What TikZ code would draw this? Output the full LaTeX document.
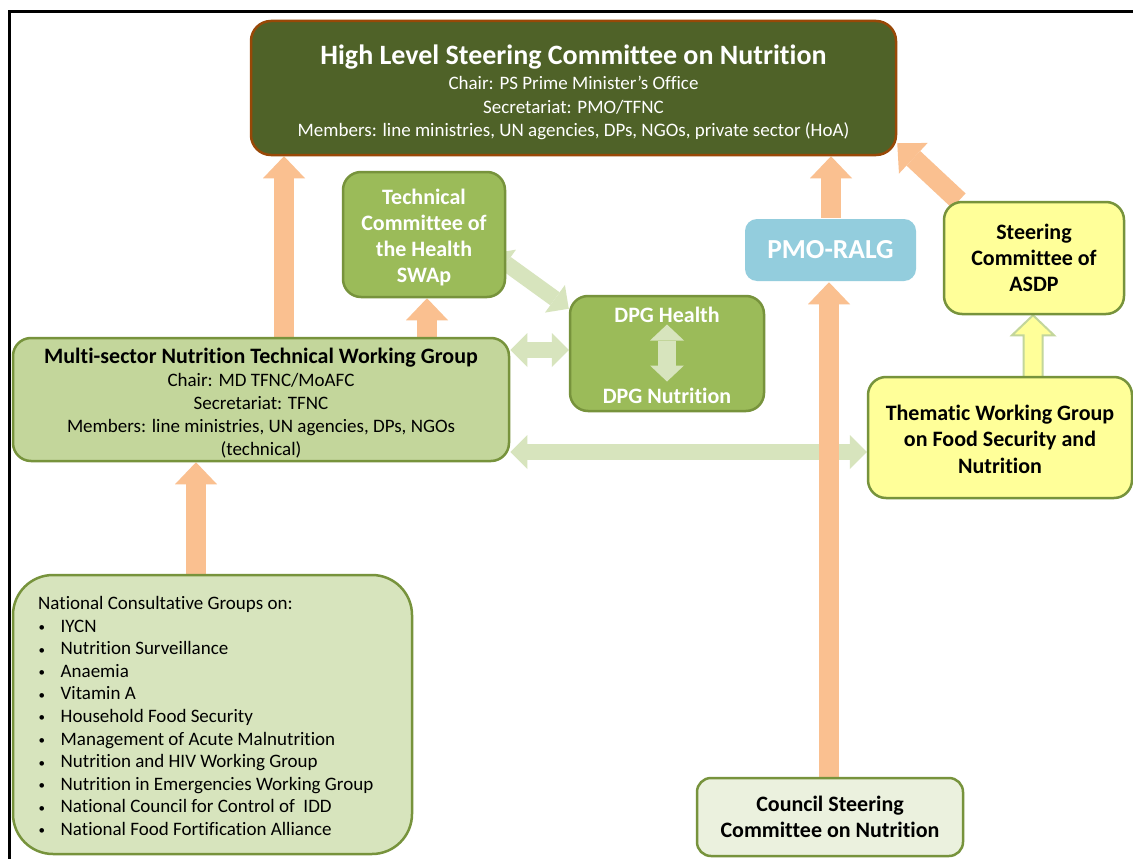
\documentclass[tikz,border=0pt]{standalone}
\usepackage{fontspec}
\setmainfont{Carlito}[Ligatures=NoCommon]
\usetikzlibrary{arrows.meta,calc,backgrounds}
\definecolor{hlfill}{HTML}{4F6228}
\definecolor{hlborder}{HTML}{984807}
\definecolor{gmid}{HTML}{9BBB59}
\definecolor{gborder}{HTML}{77933C}
\definecolor{gms}{HTML}{C3D69B}
\definecolor{glight}{HTML}{D7E4BD}
\definecolor{gpale}{HTML}{EBF1DE}
\definecolor{yel}{HTML}{FFFF99}
\definecolor{pmo}{HTML}{93CDDD}
\definecolor{orng}{HTML}{FAC090}
\newcommand{\bul}{\makebox[22.5pt][l]{\hspace{0.5pt}\fontsize{13}{13}\selectfont\raisebox{0.5pt}{•}}}
\begin{document}
\begin{tikzpicture}[x=1pt,y=-1pt,
  box/.style={rounded corners=18pt, line width=2.5pt, draw=gborder, inner sep=0pt, align=center},
  txt/.style={inner sep=0pt, align=center},
  bodytext/.style={font=\fontsize{19}{23.5}\selectfont},
  boldtext/.style={font=\fontsize{22}{26}\selectfont\bfseries},
  oarrow/.style={draw=orng, line width=20pt, -{Triangle[length=22pt,width=42pt,line width=0pt]}},
  garrow/.style={draw=glight, line width=16pt, {Triangle[length=17pt,width=34pt,line width=0pt]}-{Triangle[length=17pt,width=34pt,line width=0pt]}}
]
\useasboundingbox (0,0) rectangle (1133,859);
\draw[line width=3pt, line join=miter] (9,859) -- (9,12) -- (1133,12);

% boxes
\node[box, fill=hlfill, draw=hlborder, rounded corners=20pt, minimum width=645pt, minimum height=134pt] (hl) at (573.5,88) {};
\node[txt, text=white, bodytext] (hlt) at ($(hl.center)+(0,4.5)$)
  {{\fontsize{28}{30}\selectfont\bfseries High Level Steering Committee on Nutrition}\\[2pt]
   Chair: PS Prime Minister’s Office\\
   Secretariat: PMO/TFNC\\
   Members: line ministries, UN agencies, DPs, NGOs, private sector (HoA)};
\node[box, fill=gmid, minimum width=162pt, minimum height=125pt] (tc) at (424,234.5) {};
\node[txt, text=white, boldtext] (tct) at ($(tc.center)+(0,3)$)
  {Technical\\Committee of\\the Health\\SWAp};
\node[box, fill=gmid, minimum width=194pt, minimum height=115pt] (dpg) at (667,353.5) {};
\node[txt, text=white, boldtext] (dpgt) at ($(dpg.center)+(0,2)$)
  {DPG Health\\[55pt]DPG Nutrition};
\node[box, draw=none, fill=pmo, text=white, rounded corners=12pt, minimum width=171pt, minimum height=62pt, font=\fontsize{27.5}{30}\selectfont\bfseries] (pm) at (830.5,250)
  {PMO-RALG};
\node[box, fill=yel, minimum width=180pt, minimum height=112pt, boldtext] (asdp) at (1034,258)
  {Steering\\Committee of\\ASDP};
\node[box, fill=gms, minimum width=496pt, minimum height=123pt] (ms) at (261,399.5) {};
\node[txt, font=\fontsize{19}{23.2}\selectfont] (mst) at ($(ms.center)+(0,3.5)$)
  {{\fontsize{22}{23.2}\selectfont\bfseries Multi-sector Nutrition Technical Working Group}\\
   Chair: MD TFNC/MoAFC\\
   Secretariat: TFNC\\
   Members: line ministries, UN agencies, DPs, NGOs\\
   (technical)};
\node[box, fill=yel, minimum width=264pt, minimum height=121pt] (twg) at (1000,437.5) {};
\node[txt, font=\fontsize{22}{26.5}\selectfont\bfseries] (twgt) at ($(twg.center)+(0,1.5)$)
  {Thematic Working Group\\on Food Security and\\Nutrition};
\node[box, fill=glight, rounded corners=40pt, minimum width=399pt, minimum height=279pt] (ncg) at (212.5,714.5) {};
\node[anchor=north west, inner sep=0pt, align=left, font=\fontsize{19}{22.6}\selectfont] (ncgt) at (38,596)
  {National Consultative Groups on:\\
   \bul IYCN\\
   \bul Nutrition Surveillance\\
   \bul Anaemia\\
   \bul Vitamin A\\
   \bul Household Food Security\\
   \bul Management of Acute Malnutrition\\
   \bul Nutrition and HIV Working Group\\
   \bul Nutrition in Emergencies Working Group\\
   \bul National Council for Control of~ IDD\\
   \bul National Food Fortification Alliance};
\node[box, fill=gpale, rounded corners=14pt, minimum width=266pt, minimum height=78pt, boldtext] (csc) at (830,817)
  {Council Steering\\Committee on Nutrition};

\begin{pgfonlayer}{background}
\fill[white] (0,0) rectangle (1133,859);
% light green double arrows
\draw[garrow] ($(tc.east)+(-14,19)$) -- ($(dpg.north west)+(0,14)$);
\draw[garrow] (ms.east |- 0,350) -- (dpg.west |- 0,350);
\draw[garrow] (ms.east |- 0,452) -- (twg.west |- 0,452);
% yellow arrow TWG -> ASDP
\coordinate (yb) at (twg.north -| 1033,0);
\coordinate (yt) at (asdp.south -| 1033,0);
\filldraw[fill=yel, draw=gms, line width=2pt, line join=miter]
  ($(yb)+(-9.5,0)$) -- ($(yt)+(-9.5,20)$) -- ($(yt)+(-21,20)$) -- (yt) -- ($(yt)+(21,20)$) -- ($(yt)+(9.5,20)$) -- ($(yb)+(9.5,0)$);
% orange arrows
\draw[oarrow] (284,0 |- ms.north) -- (284,0 |- hl.south);
\draw[oarrow] (427,0 |- ms.north) -- (427,0 |- tc.south);
\draw[oarrow] (196,0 |- ncg.north) -- (196,0 |- ms.south);
\draw[oarrow] (829,0 |- csc.north) -- (829,0 |- pm.south);
\draw[oarrow] (831,0 |- pm.north) -- (831,0 |- hl.south);
\draw[oarrow] ($(asdp.north west)+(16,0)$) -- ($(hl.south east)+(0,-13)$);
\end{pgfonlayer}
% arrow inside DPG box
\draw[draw=glight, line width=18pt, {Triangle[length=16pt,width=34pt,line width=0pt]}-{Triangle[length=16pt,width=34pt,line width=0pt]}] ($(dpg.center)+(0,-29)$) -- ($(dpg.center)+(0,28)$);
\end{tikzpicture}
\end{document}
